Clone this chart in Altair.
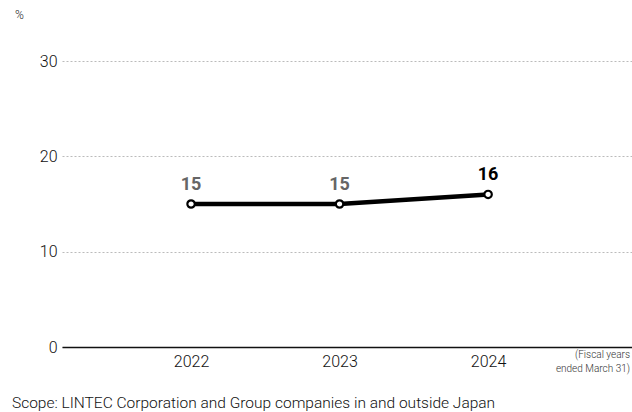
import altair as alt
import pandas as pd

years = [2022, 2023, 2024]
values = [15, 15, 16]
labels = ["15", "15", "16"]

df = pd.DataFrame({"year": years, "value": values, "label": labels})

FONT = "Roboto"

x = alt.X("year:Q", scale=alt.Scale(domain=[2021.131, 2024.969], nice=False, zero=False),
          axis=alt.Axis(values=years, format="d", title=None, grid=False, ticks=False,
                        domain=True, domainColor="#111", domainWidth=1.5,
                        labelFontSize=16, labelFont=FONT, labelFontWeight=300,
                        labelColor="#111", labelPadding=6))
y = alt.Y("value:Q", scale=alt.Scale(domain=[0, 30], nice=False),
          axis=alt.Axis(values=[0, 10, 20, 30], title=None, domain=False, ticks=False,
                        grid=True, gridDash=[2, 2], gridColor="#bbb", gridWidth=1,
                        labelFontSize=16, labelFont=FONT, labelFontWeight=300,
                        labelColor="#111", labelPadding=5))

base = alt.Chart(df)

line = base.mark_line(color="black", strokeWidth=4.5).encode(x=x, y=y)
pts = base.mark_point(shape="circle", size=55, filled=True, fill="white",
                      stroke="black", strokeWidth=2.2, opacity=1).encode(x=x, y=y)
txt = base.mark_text(dy=-19, fontSize=18, fontWeight="bold", font=FONT).encode(
    x=x, y=y, text="label:N",
    color=alt.condition(alt.datum.year == 2024, alt.value("#000"), alt.value("#666")))

pct = alt.Chart(pd.DataFrame({"t": ["%"]})).mark_text(
    align="left", baseline="middle", fontSize=12, font=FONT, fontWeight=300, color="#222"
).encode(x=alt.value(-47), y=alt.value(-46), text="t:N")

note1 = alt.Chart(pd.DataFrame({"t": ["(Fiscal years"]})).mark_text(
    align="right", baseline="middle", fontSize=10, font=FONT, fontWeight=300, color="#333",
).encode(x=alt.value(568), y=alt.value(294), text="t:N")
note2 = alt.Chart(pd.DataFrame({"t": ["ended March 31)"]})).mark_text(
    align="right", baseline="middle", fontSize=10, font=FONT, fontWeight=300, color="#333",
).encode(x=alt.value(568), y=alt.value(308), text="t:N")

scope = alt.Chart(pd.DataFrame({"t": ["Scope: LINTEC Corporation and Group companies in and outside Japan"]})).mark_text(
    align="left", baseline="middle", fontSize=15.5, font=FONT, fontWeight=300, color="#111"
).encode(x=alt.value(-50), y=alt.value(342), text="t:N")

chart = alt.layer(line, pts, txt, pct, note1, note2, scope).properties(
    width=570, height=286,
    background="white",
    autosize=alt.AutoSizeParams(type="none"),
    padding={"left": 62, "top": 61, "right": 0, "bottom": 65},
).configure_view(strokeWidth=0)

chart.save("out.html", embed_options={"renderer": "svg", "actions": False})
